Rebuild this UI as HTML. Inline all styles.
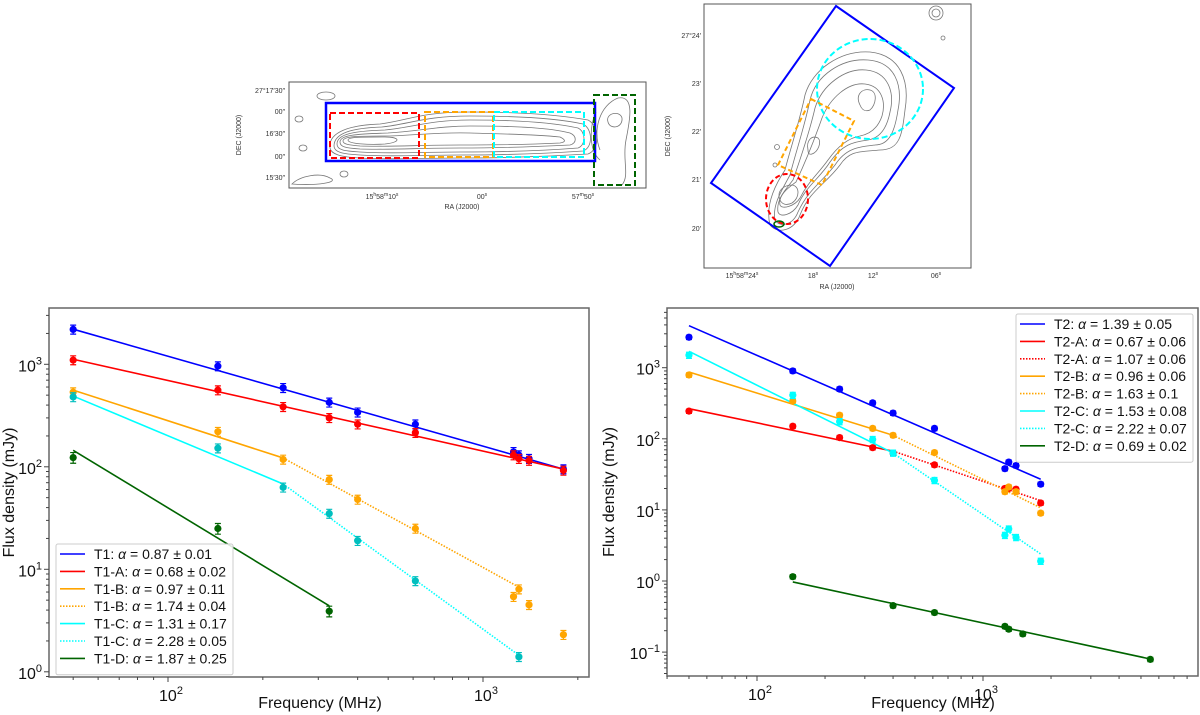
<!DOCTYPE html>
<html><head><meta charset="utf-8"><style>
html,body{margin:0;padding:0;background:#fff;}
svg{display:block;font-family:"Liberation Sans","DejaVu Sans",sans-serif;}
</style></head><body>
<svg id="fig" width="1200" height="715" viewBox="0 0 1200 715" xmlns="http://www.w3.org/2000/svg">
<g id="maps">
 <!-- Left map -->
 <g>
  <rect x="289" y="82" width="357" height="106" fill="#fff" stroke="#555" stroke-width="1"/>
  <g fill="none" stroke="#777" stroke-width="0.8">
   <path d="M330,148 C328,132 350,125 380,124 C410,120 420,112 470,112 C520,112 560,115 588,120 C600,126 600,150 588,154 C540,157 500,158 460,158 C420,158 390,160 360,158 C340,157 331,154 330,148Z"/>
   <path d="M334,146 C334,133 352,128 382,127 C410,124 425,116 470,116 C520,116 560,119 583,124 C593,129 593,148 583,151 C540,154 500,155 460,155 C420,155 390,157 360,155 C342,154 334,152 334,146Z"/>
   <path d="M337,144 C337,134 354,131 385,130 C415,127 430,120 470,120 C520,120 555,123 578,128 C586,132 586,145 578,148 C540,151 500,152 460,152 C420,152 390,154 360,152 C344,151 337,150 337,144Z"/>
   <path d="M340,142 C340,135 356,134 388,133 C420,131 440,126 470,126 C520,126 550,128 570,133 C577,136 577,143 570,145 C530,147 500,148 460,148 C420,148 390,150 360,149 C346,148 340,147 340,142Z"/>
   <path d="M343,141 C343,136 358,136 390,136 C420,135 440,132 470,133 C500,134 530,134 560,137 C566,140 566,142 560,143 C520,145 490,145 460,145 C420,145 390,147 360,146 C348,145 343,144 343,141Z"/>
   <path d="M348,140 C348,137 360,137 385,137 C400,137 402,142 385,144 C370,145 348,144 348,140Z"/>
   <path d="M600,150 C592,130 600,105 618,98 C635,95 630,120 626,140 C622,160 630,175 622,185 M596,112 C590,125 588,150 600,160"/>
   <path d="M608,122 C605,113 620,110 622,118 C623,128 610,130 608,122Z"/>
   <ellipse cx="326" cy="96" rx="9" ry="4"/><ellipse cx="299" cy="119" rx="4" ry="3"/><ellipse cx="303" cy="148" rx="4" ry="3"/>
   <path d="M292,184 C300,176 320,172 330,178 C340,182 318,186 292,184Z"/><ellipse cx="344" cy="174" rx="4" ry="3"/>
  </g>
  <rect x="326" y="103" width="269" height="58" fill="none" stroke="#0000ff" stroke-width="2.5"/>
  <rect x="330" y="113" width="89" height="45" fill="none" stroke="#ff0000" stroke-width="2" stroke-dasharray="6,3"/>
  <rect x="425" y="112" width="68" height="45" fill="none" stroke="#ffa500" stroke-width="2" stroke-dasharray="6,3"/>
  <rect x="494" y="112" width="90" height="45" fill="none" stroke="#00ffff" stroke-width="2" stroke-dasharray="6,3"/>
  <rect x="594" y="95" width="41" height="90" fill="none" stroke="#006400" stroke-width="2" stroke-dasharray="6,3"/>
  <g font-size="7" fill="#333" text-anchor="end">
   <text x="285" y="93">27°17′30″</text><text x="285" y="114">00″</text><text x="285" y="136">16′30″</text><text x="285" y="159">00″</text><text x="285" y="180">15′30″</text>
  </g>
  <g font-size="7" fill="#333" text-anchor="middle">
   <text x="382" y="199">15<tspan font-size="5" dy="-3">h</tspan><tspan dy="3">58</tspan><tspan font-size="5" dy="-3">m</tspan><tspan dy="3">10</tspan><tspan font-size="5" dy="-3">s</tspan></text>
   <text x="482" y="199">00<tspan font-size="5" dy="-3">s</tspan></text>
   <text x="583" y="199">57<tspan font-size="5" dy="-3">m</tspan><tspan dy="3">50</tspan><tspan font-size="5" dy="-3">s</tspan></text>
   <text x="462" y="209">RA (J2000)</text>
   <text transform="translate(241,135) rotate(-90)">DEC (J2000)</text>
  </g>
 </g>
 <!-- Right map -->
 <g>
  <rect x="704" y="4" width="267" height="264" fill="#fff" stroke="#555" stroke-width="1"/>
  <g fill="none" stroke="#777" stroke-width="0.8">
   <path d="M770,225 C765,205 775,185 785,170 C790,150 800,120 805,95 C812,70 840,50 870,52 C900,55 910,80 905,110 C902,135 900,150 880,150 C860,152 850,150 840,165 C825,185 810,190 800,215 C795,230 778,235 770,225Z"/>
   <path d="M775,220 C772,205 782,190 790,175 C795,155 805,125 810,100 C816,75 842,58 868,60 C895,62 903,85 898,110 C895,130 890,145 875,145 C858,147 846,148 835,165 C822,182 808,190 798,212 C793,225 780,228 775,220Z"/>
   <path d="M778,212 C776,200 785,190 793,180 C800,160 810,130 815,108 C822,85 845,68 866,70 C888,72 895,92 890,112 C887,128 880,138 868,140 C852,142 842,145 830,162 C820,178 806,186 798,205 C792,215 780,218 778,212Z"/>
   <path d="M780,205 C778,195 788,188 796,182 C804,165 815,138 822,118 C830,98 848,82 865,84 C882,86 886,102 882,116 C878,128 870,134 860,136 C848,138 838,146 828,160 C818,174 808,182 800,198 C795,206 782,210 780,205Z"/>
   <path d="M780,200 C776,190 785,185 792,185 C800,186 800,198 792,203 C786,206 782,204 780,200Z"/>
   <path d="M808,150 C806,140 812,135 818,138 C822,142 818,152 812,154 C809,155 808,153 808,150Z"/>
   <path d="M860,105 C855,95 862,88 870,90 C878,92 876,105 870,110 C865,112 862,110 860,105Z"/>
   <circle cx="936" cy="13" r="7"/><circle cx="936" cy="13" r="4"/><circle cx="943" cy="38" r="2"/><circle cx="777" cy="147" r="2.5"/><circle cx="775" cy="165" r="2"/>
  </g>
  <polygon points="836,6 954,88 830,266 711,183" fill="none" stroke="#0000ff" stroke-width="2"/>
  <ellipse cx="870" cy="89" rx="53" ry="50" fill="none" stroke="#00ffff" stroke-width="2" stroke-dasharray="6,3"/>
  <polygon points="811,99 854,121 822,185 778,165" fill="none" stroke="#ffa500" stroke-width="2" stroke-dasharray="5,3"/>
  <ellipse cx="787" cy="199" rx="21" ry="25" fill="none" stroke="#ff0000" stroke-width="2" stroke-dasharray="5,3"/>
  <ellipse cx="779" cy="224" rx="5" ry="3" fill="none" stroke="#006400" stroke-width="1.5"/>
  <g font-size="7" fill="#333" text-anchor="end">
   <text x="701" y="38">27°24′</text><text x="701" y="86">23′</text><text x="701" y="134">22′</text><text x="701" y="182">21′</text><text x="701" y="231">20′</text>
  </g>
  <g font-size="7" fill="#333" text-anchor="middle">
   <text x="742" y="278">15<tspan font-size="5" dy="-3">h</tspan><tspan dy="3">58</tspan><tspan font-size="5" dy="-3">m</tspan><tspan dy="3">24</tspan><tspan font-size="5" dy="-3">s</tspan></text>
   <text x="813" y="278">18<tspan font-size="5" dy="-3">s</tspan></text>
   <text x="873" y="278">12<tspan font-size="5" dy="-3">s</tspan></text>
   <text x="936" y="278">06<tspan font-size="5" dy="-3">s</tspan></text>
   <text x="837" y="289">RA (J2000)</text>
   <text transform="translate(670,136) rotate(-90)">DEC (J2000)</text>
  </g>
 </g>
</g>
<g id="p1"></g>
<g id="p2"></g>
</svg>
<script>
// ===== Left panel (T1) data =====
const freqT1 = [50,144,232,325,400,610,1250,1300,1400,1800];
const t1Flux  = [2190,960,590,425,340,260,140,130,120,95];
const t1aFlux = [1100,560,385,300,260,215,130,120,115,92];
const t1bFreq = [50,144,232,325,400,610,1250,1300,1400,1800];
const t1bFlux = [535,220,118,75,48,25,5.4,6.4,4.5,2.3];
const t1cFreq = [50,144,232,325,400,610,1300];
const t1cFlux = [480,152,63,35,19,7.7,1.4];
const t1dFreq = [50,144,325];
const t1dFlux = [123,25,3.9];
// fit lines: [f0, s0, f1, s1]
const t1Fit   = [50,2200,1800,95];
const t1aFit  = [50,1120,1800,95];
const t1bFit1 = [50,560,232,122];
const t1bFit2 = [232,122,1300,6.7];
const t1cFit1 = [50,490,232,68];
const t1cFit2 = [232,68,1300,1.45];
const t1dFit  = [50,145,325,4.4];
const t1Legend = [["T1","0.87 ± 0.01"],["T1-A","0.68 ± 0.02"],["T1-B","0.97 ± 0.11"],["T1-B","1.74 ± 0.04"],["T1-C","1.31 ± 0.17"],["T1-C","2.28 ± 0.05"],["T1-D","1.87 ± 0.25"]];

// ===== Right panel (T2) data =====
const freqT2 = [50,144,232,325,400,610,1250,1300,1400,1800];
const t2Flux  = [2680,900,500,320,230,140,38,47,42,23];
const t2aFlux = [245,150,104,75,63,43,20,20,19.5,12.5];
const t2bFlux = [790,340,215,140,112,64,18,21,18,9];
const t2cFlux = [1500,410,175,98,63,26,4.4,5.4,4.1,1.9];
const t2dFreq = [144,400,610,1250,1300,1500,5500];
const t2dFlux = [1.15,0.45,0.36,0.23,0.21,0.18,0.079];
const t2Fit   = [50,3900,1800,27];
const t2aFit1 = [50,265,400,67];
const t2aFit2 = [400,67,1800,13.5];
const t2bFit1 = [50,870,400,112];
const t2bFit2 = [400,112,1800,10.7];
const t2cFit1 = [50,1700,400,63];
const t2cFit2 = [400,63,1800,2.4];
const t2dFit  = [144,0.97,5500,0.08];
const t2Legend = [["T2","1.39 ± 0.05"],["T2-A","0.67 ± 0.06"],["T2-A","1.07 ± 0.06"],["T2-B","0.96 ± 0.06"],["T2-B","1.63 ± 0.1"],["T2-C","1.53 ± 0.08"],["T2-C","2.22 ± 0.07"],["T2-D","0.69 ± 0.02"]];
const yTicksT1 = [0,1,2,3];
const yTicksT2 = [-1,0,1,2,3];
const xTicks = [2,3];

const NS = "http://www.w3.org/2000/svg";
function mk(tag, attrs, parent){ const e=document.createElementNS(NS,tag); for(const k in attrs) e.setAttribute(k,attrs[k]); parent.appendChild(e); return e; }

function makePanel(g, cfg){
  const X = f => cfg.x0 + (Math.log10(f)-2)*cfg.xd;
  const Y = v => cfg.y0 - (Math.log10(v)-3)*cfg.yd;
  const fr = mk('rect',{x:cfg.L,y:cfg.T,width:cfg.R-cfg.L,height:cfg.B-cfg.T,fill:'#fff',stroke:'#666','stroke-width':1.5},g);
  
  
  const ax = {X,Y,g};
  // x ticks
  for(let d=1; d<=3; d++){
    for(let m=1;m<10;m++){
      const f=Math.pow(10,d)*m; const x=X(f);
      if(x<cfg.L||x>cfg.R) continue;
      const len = m===1?5:3;
      const t=mk('line',{x1:x,x2:x,y1:cfg.B,y2:cfg.B+len,stroke:'#444','stroke-width':1},g);
      
      
    }
  }
  xTicks.forEach(p=>{
    const t=mk('text',{x:X(Math.pow(10,p))+3,y:cfg.B+24,'font-size':16,'text-anchor':'middle',fill:'#111'},g);
    
    
    t.innerHTML='10<tspan font-size="11" dy="-7">'+p+'</tspan>';
  });
  for(let d=-2; d<=4; d++){
    for(let m=1;m<10;m++){
      const v=Math.pow(10,d)*m; const y=Y(v);
      if(y<cfg.T||y>cfg.B) continue;
      const len = m===1?5:3;
      const t=mk('line',{x1:cfg.L-len,x2:cfg.L,y1:y,y2:y,stroke:'#444','stroke-width':1},g);
      
      
    }
  }
  cfg.yTicks.forEach(p=>{
    const t=mk('text',{x:cfg.L-7,y:Y(Math.pow(10,p))+7,'font-size':16,'text-anchor':'end',fill:'#111'},g);
    
    
    t.innerHTML='10<tspan font-size="11" dy="-7">'+(p<0?'\u2212'+(-p):p)+'</tspan>';
  });
  const xl=mk('text',{x:cfg.xlX,y:708,'font-size':16,'text-anchor':'middle',fill:'#111'},g);
  
  
  xl.textContent='Frequency (MHz)';
  const yl=mk('text',{transform:'translate('+cfg.ylX+','+((cfg.T+cfg.B)/2)+') rotate(-90)','font-size':16,'text-anchor':'middle',fill:'#111'},g);
  
  
  yl.textContent='Flux density (mJy)';
  return ax;
}
function fit(ax, arr, color, dotted, name){
  const l=mk('line',{x1:ax.X(arr[0]),y1:ax.Y(arr[1]),x2:ax.X(arr[2]),y2:ax.Y(arr[3]),stroke:color,'stroke-width':1.6},ax.g);
  if(dotted) l.setAttribute('stroke-dasharray','1.5,1.5');
  
  
}
function pts(ax, fr, vals, color, err, name){
  fr.forEach((f,i)=>{
    const x=ax.X(f), y=ax.Y(vals[i]);
    const y1=ax.Y(vals[i]*(1+err)), y2=ax.Y(vals[i]*(1-err));
    const e=mk('path',{d:`M${x},${y1}V${y2}M${x-3},${y1}H${x+3}M${x-3},${y2}H${x+3}`,stroke:color,'stroke-width':1.2,fill:'none'},ax.g);
    
    
    const c=mk('circle',{cx:x,cy:y,r:3.6,fill:color},ax.g);
    
    
  });
}
function legend(g, x, y, w, rowY, entries, styles){
  const b=mk('rect',{x:x,y:y,width:w,height:rowY*entries.length+9,fill:'#fff','fill-opacity':0.85,stroke:'#ccc','stroke-width':1,rx:2},g);
  
  
  entries.forEach((en,i)=>{
    const cy=y+10+i*rowY;
    const l=mk('line',{x1:x+4,x2:x+29,y1:cy,y2:cy,stroke:styles[i][0],'stroke-width':1.6},g);
    if(styles[i][1]) l.setAttribute('stroke-dasharray','1.5,1.5');
    
    
    const t=mk('text',{x:x+38,y:cy+5,'font-size':14,fill:'#111'},g);
    
    
    t.innerHTML=en[0]+': <tspan font-style="italic">α</tspan> = '+en[1];
  });
}
const B='#0000ff', R='#ff0000', O='#ffa500', C='#00ffff', CM='#00bfbf', G='#006400';
// Panel 1
const a1=makePanel(document.getElementById('p1'),{L:49,R:589,T:308,B:677,x0:168,xd:315,y0:364.3,yd:102.5,yTicks:yTicksT1,xlX:320,ylX:14});
fit(a1,t1Fit,B,false,'fit-t1'); fit(a1,t1aFit,R,false,'fit-t1-a');
fit(a1,t1bFit1,O,false,'fit-t1-b-low'); fit(a1,t1bFit2,O,true,'fit-t1-b-high');
fit(a1,t1cFit1,C,false,'fit-t1-c-low'); fit(a1,t1cFit2,C,true,'fit-t1-c-high');
fit(a1,t1dFit,G,false,'fit-t1-d');
pts(a1,freqT1,t1Flux,B,0.1,'t1'); pts(a1,freqT1,t1aFlux,R,0.1,'t1-a');
pts(a1,t1bFreq,t1bFlux,O,0.1,'t1-b'); pts(a1,t1cFreq,t1cFlux,CM,0.1,'t1-c');
pts(a1,t1dFreq,t1dFlux,G,0.12,'t1-d');
legend(a1.g,56,544,177,17.4,t1Legend,[[B,0],[R,0],[O,0],[O,1],[C,0],[C,1],[G,0]]);
// Panel 2
const a2=makePanel(document.getElementById('p2'),{L:667,R:1198,T:308,B:676,x0:757,xd:226,y0:367.7,yd:71.1,yTicks:yTicksT2,xlX:933,ylX:614});
fit(a2,t2Fit,B,false,'fit-t2');
fit(a2,t2aFit1,R,false,'fit-t2-a-low'); fit(a2,t2aFit2,R,true,'fit-t2-a-high');
fit(a2,t2bFit1,O,false,'fit-t2-b-low'); fit(a2,t2bFit2,O,true,'fit-t2-b-high');
fit(a2,t2cFit1,C,false,'fit-t2-c-low'); fit(a2,t2cFit2,C,true,'fit-t2-c-high');
fit(a2,t2dFit,G,false,'fit-t2-d');
pts(a2,freqT2,t2Flux,B,0.07,'t2'); pts(a2,freqT2,t2aFlux,R,0.07,'t2-a');
pts(a2,freqT2,t2bFlux,O,0.07,'t2-b'); pts(a2,freqT2,t2cFlux,C,0.1,'t2-c');
pts(a2,t2dFreq,t2dFlux,G,0.07,'t2-d');
legend(a2.g,1016,314,177,17.4,t2Legend,[[B,0],[R,0],[R,1],[O,0],[O,1],[C,0],[C,1],[G,0]]);
</script>
</body></html>
